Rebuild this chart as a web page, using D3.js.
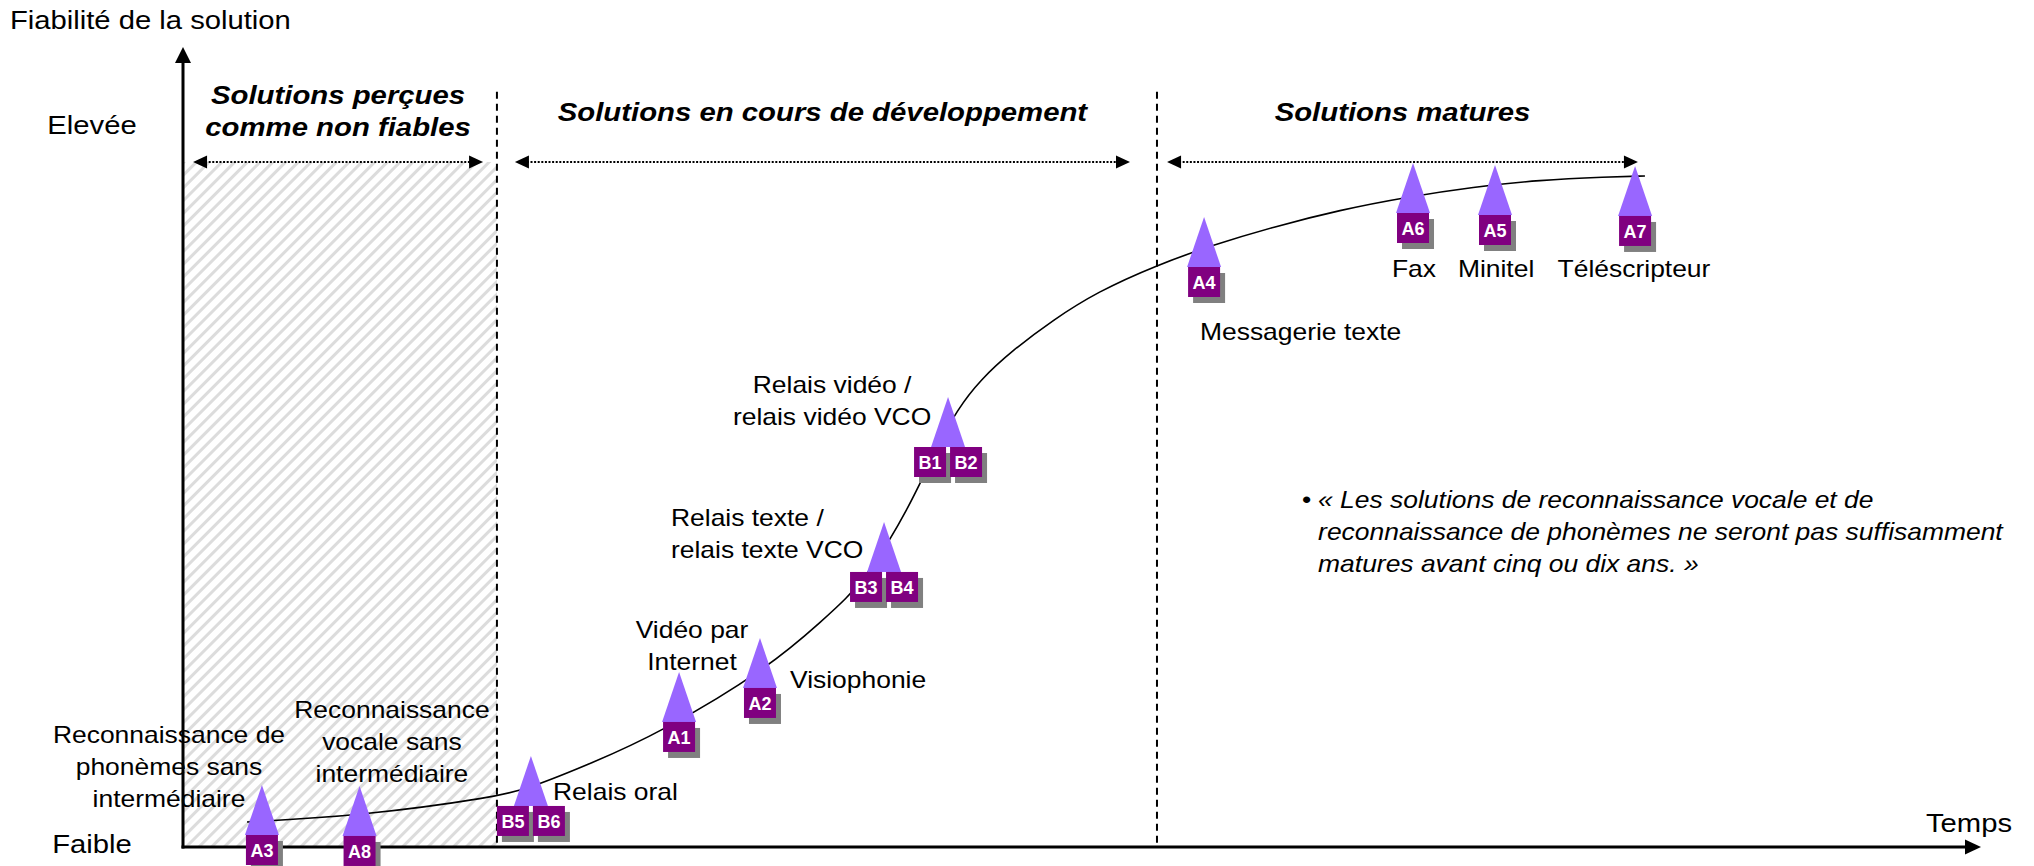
<!DOCTYPE html>
<html lang="fr">
<head>
<meta charset="utf-8">
<script src="https://cdn.jsdelivr.net/npm/d3@7"></script>
<style>
  html, body { margin: 0; padding: 0; background: #fff; }
  svg { display: block; font-family: "Liberation Sans", Arial, Helvetica, sans-serif; }
</style>
</head>
<body>
<div id="chart"></div>
<script>
// ---- data (time 0-100 on x, reliability 0-100 on y) ----
var levelNames = ["Faible", "Elevée"];
var levelValues = [-0.75, 89.1];

var zoneTitles = [["Solutions perçues", "comme non fiables"], ["Solutions en cours de développement"], ["Solutions matures"]];
var zoneFrom = [0.56, 18.46, 54.73];
var zoneTo = [16.69, 52.67, 80.92];
var zoneDividers = [17.46, 54.17];

// maturity curve
var curveTime = [3.56, 9.84, 17.46, 19.3, 22.64, 26.53, 32.65, 35.71, 36.82, 38.21, 40.32, 41.94, 43.05, 44.33, 46.16, 48.39, 50.83, 54.17, 57.29, 60.62, 64.35, 68.08, 71.75, 75.47, 79.2, 81.31];
var curveReliability = [3.13, 3.88, 6.25, 7.38, 10.38, 14.25, 22.5, 28.63, 30.88, 34.38, 42.13, 50, 54.63, 58.38, 62.13, 65.88, 69.38, 72.75, 75.25, 77.5, 79.63, 81.25, 82.5, 83.38, 83.75, 83.88];

// solutions on the curve
var markerCodes = [["A3"], ["A8"], ["B5", "B6"], ["A1"], ["A2"], ["B3", "B4"], ["B1", "B2"], ["A4"], ["A6"], ["A5"], ["A7"]];
var markerTime = [4.39, 9.82, 19.35, 27.59, 32.09, 38.99, 42.55, 56.79, 68.41, 72.97, 80.76];
var markerReliability = [1.5, 1.38, 5.13, 15.63, 19.88, 34.38, 50.0, 72.5, 79.25, 79.0, 78.88];

// solution names
var labelLines = [
  ["Reconnaissance de", "phonèmes sans", "intermédiaire"],
  ["Reconnaissance", "vocale sans", "intermédiaire"],
  ["Relais oral"],
  ["Vidéo par", "Internet"],
  ["Visiophonie"],
  ["Relais texte /", "relais texte VCO"],
  ["Relais vidéo /", "relais vidéo VCO"],
  ["Messagerie texte"],
  ["Fax"],
  ["Minitel"],
  ["Téléscripteur"]
];
var labelTime = [-0.78, 11.62, 20.58, 28.31, 33.76, 27.14, 36.1, 56.56, 68.46, 73.03, 80.7];
var labelReliability = [13.0, 16.13, 5.88, 26.13, 19.88, 40.13, 56.75, 63.38, 71.25, 71.25, 71.25];
var labelAlign = ["middle", "middle", "start", "middle", "start", "start", "middle", "start", "middle", "middle", "middle"];

var quoteLines = [
  "« Les solutions de reconnaissance vocale et de",
  "reconnaissance de phonèmes ne seront pas suffisamment",
  "matures avant cinq ou dix ans. »"
];
var quoteTime = 63.13;
var quoteReliability = 42.38;

// ---- drawing ----
var width = 2034, height = 866;
var stretch = 1.15;

var svg = d3.select("#chart").append("svg")
    .attr("width", width)
    .attr("height", height);

var x = d3.scaleLinear().domain([0, 100]).range([183, 1981]);
var y = d3.scaleLinear().domain([0, 100]).range([847, 47]);

var arrowY = 85.63;

var defs = svg.append("defs");
defs.append("pattern")
    .attr("id", "hatch")
    .attr("width", 9)
    .attr("height", 9)
    .attr("patternUnits", "userSpaceOnUse")
    .attr("patternTransform", "rotate(45)")
  .append("rect")
    .attr("width", 3)
    .attr("height", 9)
    .attr("fill", "#dcdcdc");

function addText(g, str, px, py, anchor) {
    return g.append("text")
        .attr("transform", "translate(" + px + "," + py + ") scale(" + stretch + ",1)")
        .attr("text-anchor", anchor)
        .text(str);
}

// hatched zone
svg.append("rect")
    .attr("x", x(0))
    .attr("y", y(arrowY))
    .attr("width", x(zoneDividers[0]) - x(0))
    .attr("height", y(0) - y(arrowY))
    .attr("fill", "url(#hatch)");

// zone dividers
svg.selectAll(".divider")
    .data(zoneDividers)
    .enter().append("line")
    .attr("class", "divider")
    .attr("x1", function (d) { return x(d); })
    .attr("x2", function (d) { return x(d); })
    .attr("y1", y(94.4))
    .attr("y2", y(0))
    .attr("stroke", "#000")
    .attr("stroke-width", 2)
    .attr("stroke-dasharray", "7,5");

// zone arrows
var zoneG = svg.append("g");
zoneFrom.forEach(function (f, i) {
    var x1 = x(f), x2 = x(zoneTo[i]), yy = y(arrowY);
    zoneG.append("line")
        .attr("x1", x1 + 12).attr("x2", x2 - 12)
        .attr("y1", yy).attr("y2", yy)
        .attr("stroke", "#000")
        .attr("stroke-width", 2)
        .attr("stroke-dasharray", "2,1.6");
    zoneG.append("path")
        .attr("d", "M" + x1 + "," + yy + "L" + (x1 + 14) + "," + (yy - 6.5) + "L" + (x1 + 14) + "," + (yy + 6.5) + "Z")
        .attr("fill", "#000");
    zoneG.append("path")
        .attr("d", "M" + x2 + "," + yy + "L" + (x2 - 14) + "," + (yy - 6.5) + "L" + (x2 - 14) + "," + (yy + 6.5) + "Z")
        .attr("fill", "#000");

    var g = svg.append("g")
        .attr("font-size", 25.5)
        .attr("font-weight", "bold")
        .attr("font-style", "italic");
    var cx = (x1 + x2) / 2;
    var lines = zoneTitles[i];
    var base = lines.length > 1 ? y(92.88) : y(90.75);
    lines.forEach(function (s, j) {
        addText(g, s, cx, base + j * 32, "middle");
    });
});

// curve
var line = d3.line()
    .x(function (d) { return x(d[0]); })
    .y(function (d) { return y(d[1]); })
    .curve(d3.curveBasis);

svg.append("path")
    .datum(d3.zip(curveTime, curveReliability))
    .attr("d", line)
    .attr("fill", "none")
    .attr("stroke", "#000")
    .attr("stroke-width", 1.6);

// axes
var axisG = svg.append("g");
axisG.append("line")
    .attr("x1", x(0)).attr("x2", x(0))
    .attr("y1", y(0) + 1.5).attr("y2", y(100) + 12)
    .attr("stroke", "#000").attr("stroke-width", 3);
axisG.append("path")
    .attr("d", "M" + x(0) + "," + y(100) + "L" + (x(0) - 8) + "," + (y(100) + 16) + "L" + (x(0) + 8) + "," + (y(100) + 16) + "Z")
    .attr("fill", "#000");
axisG.append("line")
    .attr("x1", x(0) - 1.5).attr("x2", x(100) - 12)
    .attr("y1", y(0)).attr("y2", y(0))
    .attr("stroke", "#000").attr("stroke-width", 3);
axisG.append("path")
    .attr("d", "M" + x(100) + "," + y(0) + "L" + (x(100) - 16) + "," + (y(0) - 7.5) + "L" + (x(100) - 16) + "," + (y(0) + 7.5) + "Z")
    .attr("fill", "#000");

var axisText = svg.append("g").attr("font-size", 25.4).attr("fill", "#000");
addText(axisText, "Fiabilité de la solution", 10, 29, "start");
addText(axisText, "Temps", 1926, 832, "start");
levelNames.forEach(function (s, i) {
    addText(axisText, s, 92, y(levelValues[i]), "middle");
});

// markers
var sqW = 32, sqH = 30, gap = 4;
var markerG = svg.append("g");
markerCodes.forEach(function (codes, i) {
    var cx = x(markerTime[i]), by = y(markerReliability[i]);
    markerG.append("path")
        .attr("d", "M" + (cx - 17) + "," + by + "L" + cx + "," + (by - 50) + "L" + (cx + 17) + "," + by + "Z")
        .attr("fill", "#9966ff");
    var total = codes.length * sqW + (codes.length - 1) * gap;
    var sx = cx - total / 2;
    codes.forEach(function (c, j) {
        var left = sx + j * (sqW + gap);
        markerG.append("rect")
            .attr("x", left + 5).attr("y", by + 6)
            .attr("width", sqW).attr("height", sqH)
            .attr("fill", "#808080");
    });
    codes.forEach(function (c, j) {
        var left = sx + j * (sqW + gap);
        markerG.append("rect")
            .attr("x", left).attr("y", by)
            .attr("width", sqW).attr("height", sqH)
            .attr("fill", "#800080");
        markerG.append("text")
            .attr("x", left + sqW / 2)
            .attr("y", by + 22)
            .attr("text-anchor", "middle")
            .attr("font-size", 18)
            .attr("font-weight", "bold")
            .attr("fill", "#fff")
            .text(c);
    });
});

// solution labels
var labelG = svg.append("g").attr("font-size", 23).attr("fill", "#000");
labelLines.forEach(function (lines, i) {
    lines.forEach(function (s, j) {
        addText(labelG, s, x(labelTime[i]), y(labelReliability[i]) + j * 32, labelAlign[i]);
    });
});

// quote
var quoteG = svg.append("g").attr("font-size", 23).attr("font-style", "italic").attr("fill", "#000");
addText(quoteG, "•", x(quoteTime) - 16, y(quoteReliability), "start").attr("font-style", "normal");
quoteLines.forEach(function (s, j) {
    addText(quoteG, s, x(quoteTime), y(quoteReliability) + j * 32, "start");
});
</script>
</body>
</html>
